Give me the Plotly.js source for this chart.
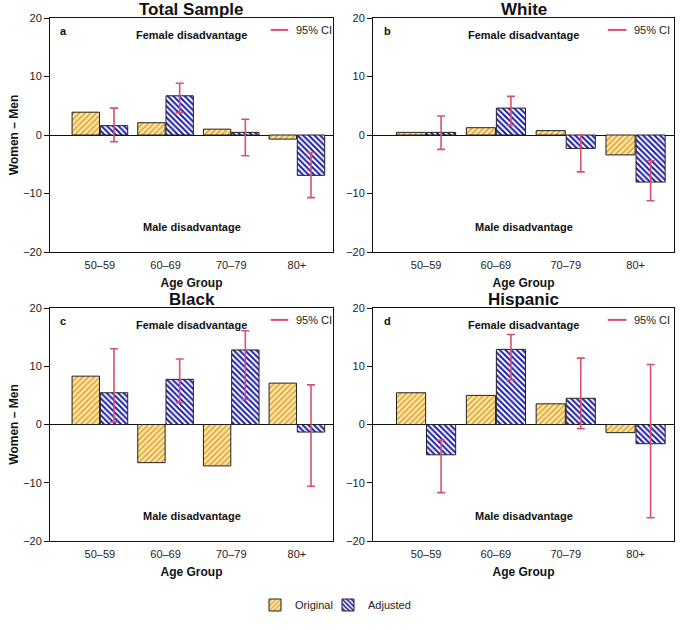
<!DOCTYPE html>
<html>
<head>
<meta charset="utf-8">
<script src="https://cdn.plot.ly/plotly-3.0.1.min.js"></script>
<style>html,body{margin:0;padding:0;background:#fff;}#chart{width:680px;height:630px;}</style>
</head>
<body>
<div id="chart"></div>
<script>
const ageGroups = ['50–59', '60–69', '70–79', '80+'];

const panelTitles = ['Total Sample', 'White', 'Black', 'Hispanic'];
const panelLetters = ['a', 'b', 'c', 'd'];

const totalOriginal = [3.9, 2.1, 1.0, -0.7];
const totalAdjusted = [1.6, 6.7, 0.45, -6.9];
const totalCILow = [-1.15, 3.8, -3.55, -10.7];
const totalCIHigh = [4.6, 8.85, 2.7, -3.0];

const whiteOriginal = [0.45, 1.25, 0.75, -3.4];
const whiteAdjusted = [0.45, 4.6, -2.3, -8.05];
const whiteCILow = [-2.45, 1.7, -6.3, -11.25];
const whiteCIHigh = [3.25, 6.6, 0.0, -4.4];

const blackOriginal = [8.3, -6.55, -7.1, 7.1];
const blackAdjusted = [5.45, 7.75, 12.8, -1.3];
const blackCILow = [0.45, 3.75, 4.3, -10.6];
const blackCIHigh = [13.0, 11.25, 16.1, 6.8];

const hispanicOriginal = [5.45, 5.0, 3.55, -1.4];
const hispanicAdjusted = [-5.2, 12.9, 4.5, -3.3];
const hispanicCILow = [-11.7, 7.65, -0.7, -16.0];
const hispanicCIHigh = [-2.7, 15.45, 11.4, 10.3];

const panels = [
  {orig: totalOriginal, adj: totalAdjusted, lo: totalCILow, hi: totalCIHigh},
  {orig: whiteOriginal, adj: whiteAdjusted, lo: whiteCILow, hi: whiteCIHigh},
  {orig: blackOriginal, adj: blackAdjusted, lo: blackCILow, hi: blackCIHigh},
  {orig: hispanicOriginal, adj: hispanicAdjusted, lo: hispanicCILow, hi: hispanicCIHigh}
];

const W = 680, H = 630;
const xDomains = [[50/W, 333/W], [373/W, 674/W], [50/W, 333/W], [373/W, 674/W]];
const yDomains = [[1-252/H, 1-18/H], [1-252/H, 1-18/H], [1-541/H, 1-308/H], [1-541/H, 1-308/H]];

const ciColor = '#d8506f';
const fontFam = '"Liberation Sans", Arial, Helvetica, sans-serif';

const legendCommon = {orientation: 'h', xanchor: 'left', y: 1-605/H, yanchor: 'middle',
  font: {size: 11, color: '#222'}, itemwidth: 30, borderwidth: 0, bgcolor: 'rgba(0,0,0,0)'};

const traces = [];
const layout = {
  width: W, height: H,
  margin: {l: 0, r: 0, t: 0, b: 0},
  paper_bgcolor: '#fff', plot_bgcolor: '#fff',
  font: {family: fontFam, size: 11, color: '#111'},
  barmode: 'group',
  bargap: 0.14,
  bargroupgap: 0.03,
  showlegend: true,
  legend: Object.assign({x: 255/W}, legendCommon),
  legend2: Object.assign({x: 328/W}, legendCommon),
  annotations: [],
  shapes: []
};

panels.forEach((p, i) => {
  const n = i + 1;
  const xa = n === 1 ? 'x' : 'x' + n;
  const ya = n === 1 ? 'y' : 'y' + n;
  traces.push({
    type: 'bar', name: 'Original', x: ageGroups, y: p.orig,
    xaxis: xa, yaxis: ya, showlegend: i === 0, legend: 'legend',
    marker: {color: '#fbe4a0', line: {color: '#222', width: 1},
             pattern: {shape: '/', bgcolor: '#fdeab0', fgcolor: '#e3a02a', size: 4, solidity: 0.4}},
    hoverinfo: 'skip'
  });
  traces.push({
    type: 'bar', name: 'Adjusted', x: ageGroups, y: p.adj,
    xaxis: xa, yaxis: ya, showlegend: i === 0, legend: 'legend2',
    marker: {color: '#ffffff', line: {color: '#222', width: 1},
             pattern: {shape: '\\', bgcolor: '#ffffff', fgcolor: '#1c1ca8', size: 4, solidity: 0.5}},
    error_y: {type: 'data', symmetric: false,
              array: p.hi.map((h, k) => h - p.adj[k]),
              arrayminus: p.adj.map((v, k) => v - p.lo[k]),
              color: ciColor, thickness: 1.6, width: 4},
    hoverinfo: 'skip'
  });
  const xKey = n === 1 ? 'xaxis' : 'xaxis' + n;
  const yKey = n === 1 ? 'yaxis' : 'yaxis' + n;
  layout[xKey] = {
    domain: xDomains[i], anchor: ya, type: 'category',
    range: [-0.76, 3.55], showline: true, mirror: true, linecolor: '#111', linewidth: 1,
    ticks: '', showgrid: false, zeroline: false, automargin: false,
    ticklabelstandoff: 3,
    tickfont: {size: 11, color: '#222'},
    title: {text: '<b>Age Group</b>', font: {size: 12, color: '#111'}, standoff: 8}
  };
  layout[yKey] = {
    domain: yDomains[i], anchor: xa,
    range: [-20, 20], dtick: 10, tick0: 0, showline: true, mirror: true, linecolor: '#111', linewidth: 1,
    ticks: 'outside', ticklen: 5, tickcolor: '#111', showgrid: false,
    zeroline: true, zerolinecolor: '#111', zerolinewidth: 1, automargin: false,
    tickfont: {size: 11, color: '#222'},
    title: (i % 2 === 0) ? {text: '<b>Women – Men</b>', font: {size: 12, color: '#111'}, standoff: 1} : {text: ''}
  };
  const xd = xa + ' domain', yd = ya + ' domain';
  layout.annotations.push({text: '<b>' + panelTitles[i] + '</b>', xref: xd, yref: yd, x: 0.5, y: 1.0,
    xanchor: 'center', yanchor: 'bottom', yshift: -3, showarrow: false, font: {size: 17, color: '#111'}});
  layout.annotations.push({text: '<b>' + panelLetters[i] + '</b>', xref: xd, yref: yd, x: 0.03, y: 0.945,
    xanchor: 'left', yanchor: 'middle', showarrow: false, font: {size: 11, color: '#111'}});
  layout.annotations.push({text: '<b>Female disadvantage</b>', xref: xd, yref: yd, x: 0.5, y: 0.927,
    xanchor: 'center', yanchor: 'middle', showarrow: false, font: {size: 11, color: '#111'}});
  layout.annotations.push({text: '<b>Male disadvantage</b>', xref: xd, yref: yd, x: 0.5, y: 0.107,
    xanchor: 'center', yanchor: 'middle', showarrow: false, font: {size: 11, color: '#111'}});
  layout.annotations.push({text: '95% CI', xref: xd, yref: yd, x: 0.862, y: 0.949,
    xanchor: 'left', yanchor: 'middle', showarrow: false, font: {size: 11, color: '#222'}});
  layout.shapes.push({type: 'line', xref: xd, yref: yd, x0: 0.78, x1: 0.842, y0: 0.949, y1: 0.949,
    line: {color: ciColor, width: 2}});
});

Plotly.newPlot('chart', traces, layout, {staticPlot: true, displayModeBar: false});
</script>
</body>
</html>
